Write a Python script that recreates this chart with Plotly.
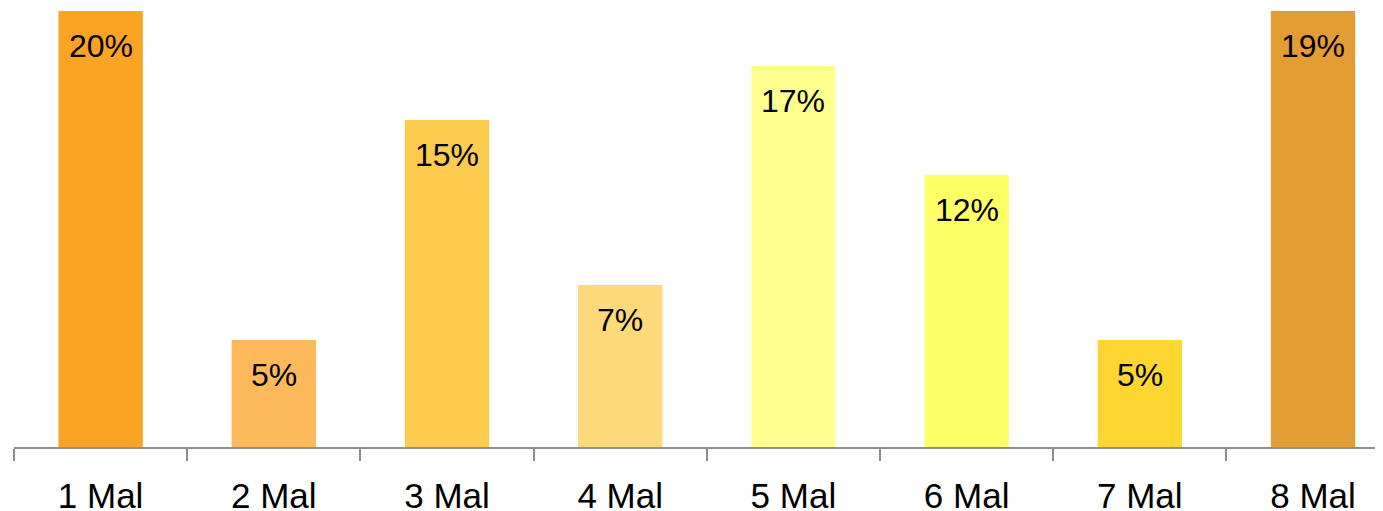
import plotly.graph_objects as go

# ---------- data ----------
categories = ["1 Mal", "2 Mal", "3 Mal", "4 Mal", "5 Mal", "6 Mal", "7 Mal", "8 Mal"]
values = [20.0, 4.76, 14.55, 7.21, 16.95, 12.1, 4.76, 19.45]   # percent
labels = ["20%", "5%", "15%", "7%", "17%", "12%", "5%", "19%"]
colors = ["#FBA424", "#FDB85A", "#FDCC4E", "#FED97A",
          "#FFFF8F", "#FFFF66", "#FDD632", "#E49C35"]

Y_MAX = 19.4
FONT = "Liberation Sans, Arial, sans-serif"
AXIS_GREY = "#8E8E8E"

fig = go.Figure(go.Bar(
    x=categories,
    y=values,
    marker=dict(color=colors, line_width=0),
    hoverinfo="skip",
))

# 値ラベル（バー上端の少し下、はみ出したバーは軸上端基準）
for cat, val, lab in zip(categories, values, labels):
    fig.add_annotation(
        x=cat, y=min(val, Y_MAX),
        text=lab,
        showarrow=False,
        yanchor="top",
        yshift=-15,
        font=dict(family=FONT, size=32, color="#000000"),
    )

# page body has an 8px margin -> shift margins to compensate
fig.update_layout(
    width=1383,
    height=511,
    margin=dict(l=6, r=8, t=3, b=72, autoexpand=False),
    paper_bgcolor="#ffffff",
    plot_bgcolor="#ffffff",
    bargap=0.513,
    showlegend=False,
    font=dict(family=FONT, color="#000000"),
)

fig.update_xaxes(
    range=[-0.5, 7.404],
    tickson="boundaries",
    ticks="outside",
    ticklen=12,
    tickwidth=2,
    tickcolor=AXIS_GREY,
    ticklabelstandoff=17,
    showline=True,
    linewidth=2,
    linecolor=AXIS_GREY,
    showgrid=False,
    automargin=False,
    tickfont=dict(family=FONT, size=35, color="#000000"),
)
fig.update_yaxes(
    range=[0, Y_MAX],
    visible=False,
    showgrid=False,
    zeroline=False,
)

fig.write_html("out.html")
